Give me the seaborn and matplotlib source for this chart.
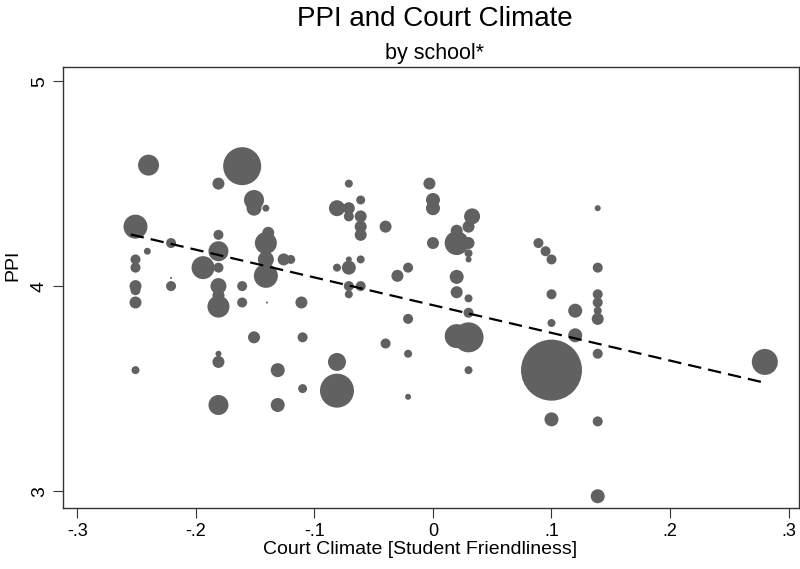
import numpy as np
import pandas as pd
import matplotlib
matplotlib.use("Agg")
import matplotlib.pyplot as plt
import seaborn as sns

# ======================
# Datos
# ======================
court_climate = [
    -0.240, -0.161, -0.181, -0.151, -0.151, -0.141, -0.251, -0.241, -0.221, -0.181,
    -0.181, -0.194, -0.181, -0.141, -0.139, -0.141, -0.141, -0.126, -0.120, -0.251,
    -0.251, -0.251, -0.251, -0.221, -0.221, -0.181, -0.161, -0.071, -0.061, -0.081,
    -0.071, -0.071, -0.061, -0.061, -0.061, -0.040, -0.071, -0.081, -0.071, -0.061,
    -0.061, -0.071, -0.071, -0.030, -0.003, 0.000, 0.000, 0.033, 0.030, 0.020,
    0.020, 0.030, 0.030, 0.030, 0.000, -0.021, 0.020, 0.020, 0.030, 0.089,
    0.095, 0.100, 0.139, 0.139, 0.139, 0.100, -0.251, -0.181, -0.181, -0.161,
    -0.140, -0.111, -0.151, -0.110, -0.040, -0.181, -0.181, -0.251, -0.131, -0.110,
    -0.081, -0.081, -0.072, -0.181, -0.131, 0.139, 0.139, 0.139, 0.120, 0.030,
    -0.021, 0.100, 0.120, 0.020, 0.030, -0.021, 0.139, 0.030, 0.100, -0.021,
    0.280, 0.100, 0.139, 0.139,
]
ppi = [
    4.59, 4.585, 4.50, 4.42, 4.38, 4.38, 4.29, 4.17, 4.21, 4.25,
    4.17, 4.09, 4.09, 4.21, 4.26, 4.13, 4.05, 4.13, 4.13, 4.13,
    4.09, 4.00, 3.98, 4.00, 4.04, 4.00, 4.00, 4.50, 4.42, 4.38,
    4.38, 4.34, 4.34, 4.29, 4.25, 4.29, 4.09, 4.09, 4.13, 4.13,
    4.00, 4.00, 3.96, 4.05, 4.50, 4.42, 4.38, 4.34, 4.29, 4.27,
    4.21, 4.21, 4.16, 4.13, 4.21, 4.09, 4.045, 3.97, 3.94, 4.21,
    4.17, 4.13, 4.38, 4.09, 3.96, 3.96, 3.92, 3.90, 3.955, 3.92,
    3.92, 3.92, 3.75, 3.75, 3.72, 3.67, 3.63, 3.59, 3.59, 3.50,
    3.63, 3.49, 3.50, 3.42, 3.42, 3.92, 3.88, 3.84, 3.88, 3.87,
    3.84, 3.82, 3.76, 3.756, 3.75, 3.67, 3.67, 3.59, 3.59, 3.46,
    3.63, 3.35, 3.34, 2.975,
]
# peso de cada escuela (proporcional al área de la burbuja)
peso = [
    110, 361, 36, 100, 56, 12, 144, 12, 25, 25,
    100, 132, 25, 121, 36, 64, 144, 36, 20, 25,
    25, 36, 25, 25, 1, 64, 25, 16, 20, 64,
    36, 25, 36, 36, 36, 36, 49, 16, 9, 16,
    25, 25, 16, 36, 36, 49, 49, 64, 36, 36,
    144, 36, 16, 9, 36, 25, 49, 36, 16, 25,
    25, 25, 9, 25, 25, 25, 36, 121, 36, 25,
    1, 36, 36, 25, 25, 9, 36, 16, 49, 20,
    81, 289, 9, 100, 49, 25, 16, 36, 49, 25,
    25, 16, 49, 144, 225, 16, 25, 16, 930, 9,
    169, 49, 25, 49,
]

# Recta de ajuste
ajuste_intercepto = 3.907
ajuste_pendiente = -1.352

df = pd.DataFrame({"clima": court_climate, "ppi": ppi, "peso": peso})

# ======================
# Gráfico
# ======================
sns.set_theme(style="white")
plt.rcParams["font.family"] = ["Liberation Sans", "DejaVu Sans"]
plt.rcParams["text.color"] = "black"
plt.rcParams["axes.labelcolor"] = "black"
plt.rcParams["xtick.color"] = "black"
plt.rcParams["ytick.color"] = "black"

fig = plt.figure(figsize=(8, 5.69), dpi=100)
ax = fig.add_axes([0.079, 0.107, 0.92, 0.775])

# radio en px -> área en pt^2: (2 * r * 0.72)^2 = 2.0736 * r^2
max_peso = max(peso)
sns.scatterplot(data=df, x="clima", y="ppi", size="peso",
                sizes=(0, 2.0736 * max_peso), size_norm=(0, max_peso),
                color="#616161", linewidth=0, alpha=1, legend=False, ax=ax)

xs = np.linspace(df["clima"].min() - 0.004, df["clima"].max(), 50)
ax.plot(xs, ajuste_intercepto + ajuste_pendiente * xs, color="black",
        lw=1.6, dashes=(6, 3.2))

ax.set_xlim(-0.312, 0.309)
ax.set_ylim(2.917, 5.068)
ax.set_xticks([-0.3, -0.2, -0.1, 0, 0.1, 0.2, 0.3])
ax.set_xticklabels(["-.3", "-.2", "-.1", "0", ".1", ".2", ".3"])
ax.set_yticks([3, 4, 5])
ax.set_yticklabels(["3", "4", "5"], rotation=90, va="center")

ax.tick_params(axis="both", which="major", direction="out", length=7,
               width=0.8, color="#333333", pad=4, bottom=True, left=True)
ax.tick_params(axis="x", labelsize=13)
ax.tick_params(axis="y", labelsize=14)
for s in ax.spines.values():
    s.set_color("#333333")
    s.set_linewidth(1.0)

ax.set_xlabel("Court Climate [Student Friendliness]", fontsize=14)
ax.xaxis.set_label_coords(0.485, -0.075)
ax.set_ylabel("PPI", fontsize=14)
ax.yaxis.set_label_coords(-0.057, 0.55)

fig.text(0.543, 0.966, "PPI and Court Climate", ha="center", va="center",
         fontsize=20)
fig.text(0.543, 0.906, "by school*", ha="center", va="center", fontsize=15.5)

fig.savefig("out.png", dpi=100)
